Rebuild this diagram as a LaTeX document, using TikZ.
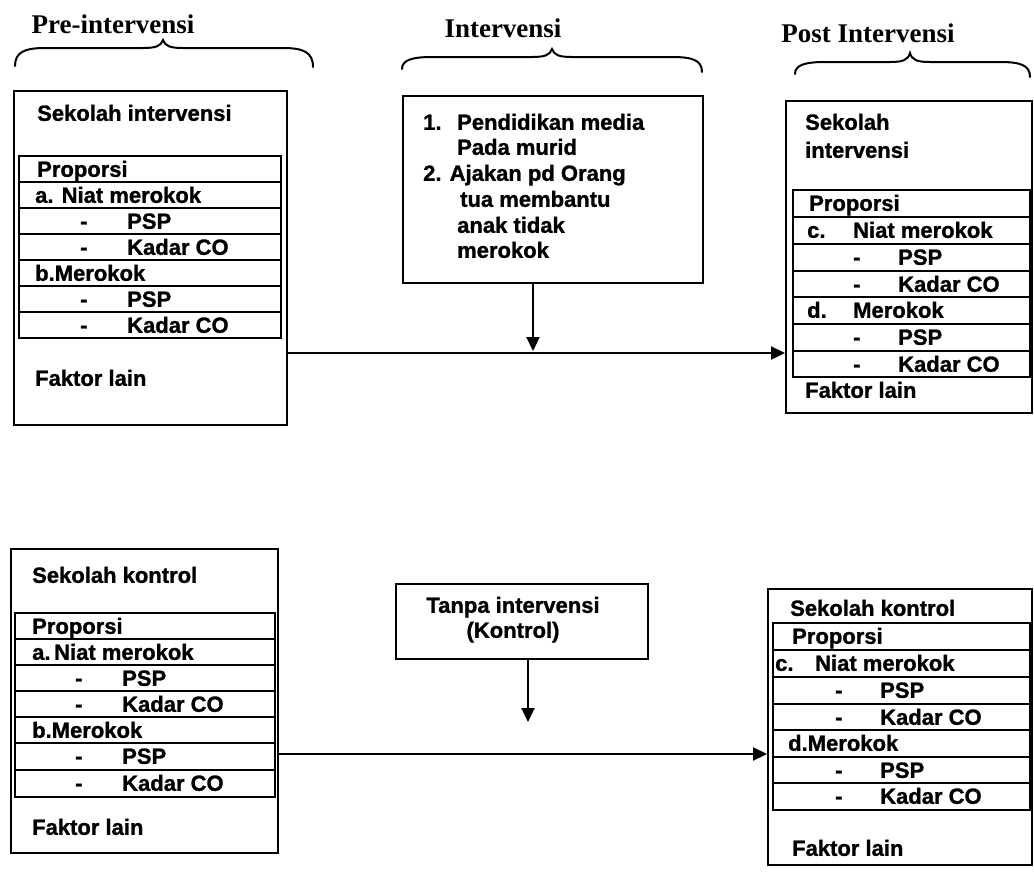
\documentclass[tikz,border=0pt]{standalone}
\usepackage{fontspec}
\setmainfont{Liberation Serif}
\newfontfamily\boxfont[FakeBold=1.2]{Liberation Sans Bold}
\usetikzlibrary{arrows.meta}
\begin{document}
\begin{tikzpicture}[x=1pt,y=-1pt,
  outer/.style={draw, line width=2.2pt, inner sep=0pt, anchor=north west},
  tbl/.style={line width=1.3pt},
  t/.style={anchor=base west, yshift=-7.8pt, inner sep=0pt, font=\boxfont\fontsize{22}{25}\selectfont},
  tc/.style={anchor=base, yshift=-7.8pt, inner sep=0pt, font=\boxfont\fontsize{22}{25}\selectfont},
  head/.style={inner sep=0pt, font=\bfseries\fontsize{27}{30}\selectfont},
  conn/.style={line width=2.2pt, -{Triangle[length=14pt,width=13pt]}},
  brc/.style={line width=2pt, line cap=round}]
\useasboundingbox (0,0) rectangle (1034,871);

% ---------- headers ----------
\node[head] (h1) at (113,24) {Pre-intervensi};
\node[head] (h2) at (503,28) {Intervensi};
\node[head] (h3) at (868,33) {Post Intervensi};

% ---------- braces ----------
\draw[brc] (15,66) .. controls (15,52) and (25,48) .. (45,48) -- (143,48)
  .. controls (156,48) and (161,46) .. (163,40) .. controls (165,46) and (170,48) .. (183,48)
  -- (283,48) .. controls (303,48) and (313,52) .. (313,67);
\draw[brc] (402,69) .. controls (402,60) and (412,57) .. (432,57) -- (532,57)
  .. controls (545,57) and (550,55) .. (552,49) .. controls (554,55) and (559,57) .. (572,57)
  -- (672,57) .. controls (692,57) and (702,60) .. (702,72);
\draw[brc] (795,74) .. controls (795,65) and (805,62) .. (825,62) -- (890,62)
  .. controls (903,62) and (908,60) .. (910,53) .. controls (912,60) and (917,62) .. (930,62)
  -- (1000,62) .. controls (1020,62) and (1030,65) .. (1030,77);

% ---------- top-left box ----------
\node[outer, minimum width=273pt, minimum height=334pt] (TL) at (13,90) {};
\draw[tbl] (19,156) rectangle (281,338);
\foreach \yy in {182,208,234,260,286,312} \draw[tbl] (19,\yy) -- (281,\yy);
\node[t] (tl0) at (37,113) {Sekolah intervensi};
\node[t] (tl1) at (37,169) {Proporsi};
\node[t] (tl2) at (35,195) {a. Niat merokok};
\node[t] (tl3a) at (80,221) {-};
\node[t] (tl3) at (127,221) {PSP};
\node[t] (tl4a) at (80,247) {-};
\node[t] (tl4) at (127,247) {Kadar CO};
\node[t] (tl5) at (35,273) {b.Merokok};
\node[t] (tl6a) at (80,299) {-};
\node[t] (tl6) at (127,299) {PSP};
\node[t] (tl7a) at (80,325) {-};
\node[t] (tl7) at (127,325) {Kadar CO};
\node[t] (tl8) at (35,378) {Faktor lain};

% ---------- top-middle box ----------
\node[outer, minimum width=300pt, minimum height=187pt] (TM) at (402,95) {};
\node[t] (tm1a) at (423,122) {1.};
\node[t] (tm1) at (457,122) {Pendidikan media};
\node[t] (tm2) at (457,147) {Pada murid};
\node[t] (tm3) at (423,173) {2. Ajakan pd Orang};
\node[t] (tm4) at (460,199) {tua membantu};
\node[t] (tm5) at (457,225) {anak tidak};
\node[t] (tm6) at (457,250) {merokok};

% ---------- top-right box ----------
\node[outer, minimum width=246pt, minimum height=312pt] (TR) at (785,100) {};
\draw[tbl] (793,190) rectangle (1030,377);
\foreach \yy in {217,244,271,297,324,351} \draw[tbl] (793,\yy) -- (1030,\yy);
\node[t] (tr0) at (805,122) {Sekolah};
\node[t] (tr0b) at (805,150) {intervensi};
\node[t] (tr1) at (809,203) {Proporsi};
\node[t] (tr2a) at (807,230) {c.};
\node[t] (tr2) at (853,230) {Niat merokok};
\node[t] (tr3a) at (853,257) {-};
\node[t] (tr3) at (898,257) {PSP};
\node[t] (tr4a) at (853,284) {-};
\node[t] (tr4) at (898,284) {Kadar CO};
\node[t] (tr5a) at (807,310) {d.};
\node[t] (tr5) at (853,310) {Merokok};
\node[t] (tr6a) at (853,337) {-};
\node[t] (tr6) at (898,337) {PSP};
\node[t] (tr7a) at (853,364) {-};
\node[t] (tr7) at (898,364) {Kadar CO};
\node[t] (tr8) at (805,390) {Faktor lain};

% ---------- bottom-left box ----------
\node[outer, minimum width=267pt, minimum height=304pt] (BL) at (10,548) {};
\draw[tbl] (15,613) rectangle (275,797);
\foreach \yy in {639,665,691,717,743,770} \draw[tbl] (15,\yy) -- (275,\yy);
\node[t] (bl0) at (32,575) {Sekolah kontrol};
\node[t] (bl1) at (32,626) {Proporsi};
\node[t] (bl2) at (32,652) {a.\,Niat merokok};
\node[t] (bl3a) at (75,678) {-};
\node[t] (bl3) at (122,678) {PSP};
\node[t] (bl4a) at (75,704) {-};
\node[t] (bl4) at (122,704) {Kadar CO};
\node[t] (bl5) at (32,730) {b.Merokok};
\node[t] (bl6a) at (75,756) {-};
\node[t] (bl6) at (122,756) {PSP};
\node[t] (bl7a) at (75,783) {-};
\node[t] (bl7) at (122,783) {Kadar CO};
\node[t] (bl8) at (32,827) {Faktor lain};

% ---------- bottom-middle box ----------
\node[outer, minimum width=252pt, minimum height=75pt] (BM) at (395,583) {};
\node[tc] (bm1) at (513,605) {Tanpa intervensi};
\node[tc] (bm2) at (513,630) {(Kontrol)};

% ---------- bottom-right box ----------
\node[outer, minimum width=264pt, minimum height=276pt] (BR) at (767,588) {};
\draw[tbl] (773,623) rectangle (1030,810);
\foreach \yy in {650,677,704,730,757,783} \draw[tbl] (773,\yy) -- (1030,\yy);
\node[t] (br0) at (790,608) {Sekolah kontrol};
\node[t] (br1) at (792,636) {Proporsi};
\node[t] (br2a) at (775,663) {c.};
\node[t] (br2) at (815,663) {Niat merokok};
\node[t] (br3a) at (835,690) {-};
\node[t] (br3) at (880,690) {PSP};
\node[t] (br4a) at (835,717) {-};
\node[t] (br4) at (880,717) {Kadar CO};
\node[t] (br5) at (788,743) {d.Merokok};
\node[t] (br6a) at (835,770) {-};
\node[t] (br6) at (880,770) {PSP};
\node[t] (br7a) at (835,796) {-};
\node[t] (br7) at (880,796) {Kadar CO};
\node[t] (br8) at (792,848) {Faktor lain};

% ---------- connectors ----------
\coordinate (y1) at (0,353);
\coordinate (v1) at (533,351);
\coordinate (y2) at (0,754);
\coordinate (v2) at (528,722);
\draw[conn] (TL.east |- y1) -- (TR.west |- y1);
\draw[conn] (TM.south -| v1) -- (v1);
\draw[conn] (BL.east |- y2) -- (BR.west |- y2);
\draw[conn] (BM.south -| v2) -- (v2);
\end{tikzpicture}
\end{document}
